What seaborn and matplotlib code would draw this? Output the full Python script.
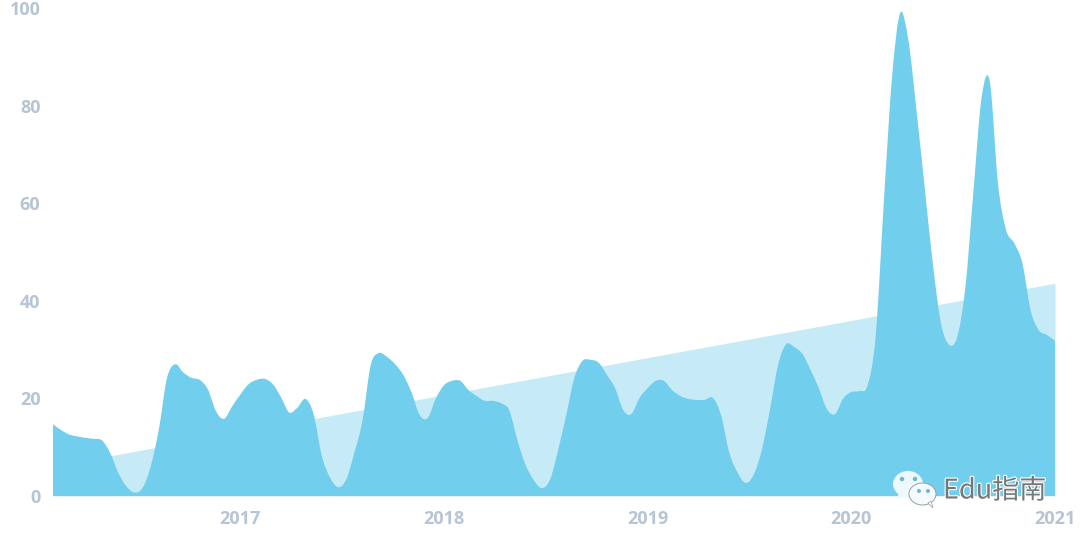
#!/usr/bin/env python3
"""Search interest area chart, 2016-2021, with rising trend behind it"""
import numpy as np
import pandas as pd
import matplotlib
matplotlib.use('Agg')
import matplotlib.pyplot as plt
import seaborn as sns
from matplotlib.patches import Ellipse, Polygon, PathPatch
from matplotlib.path import Path
from matplotlib.transforms import Affine2D
import matplotlib.patheffects as pe

# values, one every 0.04 year starting at 2016.08
start_year = 2016.08
step_year = 0.04
interest = [
    14.7, 13.5, 12.6, 12.2, 11.9, 11.7, 11.4, 8.9, 4.8, 2.0, 0.7, 1.7, 6.1,
    13.7, 24.2, 27.0, 25.3, 24.2, 23.8, 21.9, 17.4, 15.8, 18.4, 20.8, 22.9,
    23.8, 24.0, 22.9, 20.2, 17.1, 18.1, 19.9, 16.7, 8.2, 3.8, 1.8, 3.4, 8.9,
    15.5, 26.8, 29.3, 28.5, 27.0, 24.8, 21.3, 16.6, 16.0, 20.0, 22.7, 23.6,
    23.6, 21.7, 20.5, 19.5, 19.5, 19.0, 17.6, 11.5, 6.4, 3.3, 1.6, 3.3, 9.4,
    16.6, 24.2, 27.7, 27.9, 27.3, 24.8, 22.1, 17.6, 16.8, 20.1, 22.1, 23.6,
    23.6, 21.7, 20.5, 19.9, 19.7, 19.7, 20.1, 16.6, 9.0, 4.9, 2.7, 4.3, 9.4,
    17.6, 26.8, 31.1, 30.5, 29.1, 25.8, 22.1, 17.8, 16.8, 20.0, 21.3, 21.5,
    22.7, 33.0, 60.6, 85.9, 99.0, 93.4, 79.0, 63.3, 47.7, 35.4, 31.0, 32.6,
    42.8, 62.7, 81.8, 84.9, 64.0, 54.5, 51.8, 47.7, 38.1, 34.0, 33.0, 31.8,
]
trend_years = [2016.08, 2021.0]
trend_values = [6.1, 43.6]
x_ticks = [2017, 2018, 2019, 2020, 2021]
y_ticks = [0, 20, 40, 60, 80, 100]

MAIN = '#71CEEC'
LIGHT = '#C6EBF7'
LABEL = '#B7C4D3'


def smooth_area(xs, ys):
    # closed area whose top edge is a curve through every point (Catmull-Rom tangents)
    xs, ys = np.asarray(xs), np.asarray(ys)
    dx = np.gradient(xs) / 3
    dy = np.gradient(ys) / 3
    verts = [(xs[0], 0), (xs[0], ys[0])]
    codes = [Path.MOVETO, Path.LINETO]
    for i in range(len(xs) - 1):
        verts += [(xs[i] + dx[i], ys[i] + dy[i]),
                  (xs[i + 1] - dx[i + 1], ys[i + 1] - dy[i + 1]),
                  (xs[i + 1], ys[i + 1])]
        codes += [Path.CURVE4] * 3
    verts += [(xs[-1], 0), (xs[0], 0)]
    codes += [Path.LINETO, Path.CLOSEPOLY]
    return Path(verts, codes)


sns.set_theme(style='white')
plt.rcParams['font.family'] = ['Open Sans', 'DejaVu Sans']

df = pd.DataFrame({
    'year': start_year + step_year * np.arange(len(interest)),
    'interest': interest,
})
trend = pd.DataFrame({'year': trend_years, 'value': trend_values})

fig = plt.figure(figsize=(10.8, 5.4), dpi=100)
ax = fig.add_axes([53 / 1080, 44 / 540, 1002 / 1080, 488 / 540])

# trend sits behind the main area
sns.lineplot(data=trend, x='year', y='value', color=LIGHT, lw=0, ax=ax)
ax.fill_between(trend['year'], trend['value'], color=LIGHT, lw=0)
sns.lineplot(data=df, x='year', y='interest', color=MAIN, lw=0, ax=ax)
ax.add_patch(PathPatch(smooth_area(df['year'], df['interest']), fc=MAIN, ec='none', transform=ax.transData))

ax.set_xlim(start_year, 2021.0)
ax.set_ylim(0, 100)
ax.set_xticks(x_ticks)
ax.set_yticks(y_ticks)
ax.set_xlabel('')
ax.set_ylabel('')
sns.despine(ax=ax, left=True, bottom=True, top=True, right=True)
ax.tick_params(axis='x', length=0, pad=10, labelsize=13, labelcolor=LABEL)
ax.tick_params(axis='y', length=0, pad=9, labelsize=13, labelcolor=LABEL)
for lab in ax.get_xticklabels() + ax.get_yticklabels():
    lab.set_fontweight('bold')
    lab.set_clip_on(False)
ax.patch.set_alpha(0)

# watermark, in picture pixels
px = Affine2D().scale(1, -1).translate(0, 540)
fig.add_artist(Ellipse((908, 484), 30, 26, transform=px, fc='#EEF9FD', ec='none', zorder=5))
fig.add_artist(Polygon([(899, 493), (896, 500), (906, 496)], transform=px, fc='#EEF9FD', ec='none', zorder=5))
for ex in (902, 915):
    fig.add_artist(Ellipse((ex, 479), 4.5, 4.5, transform=px, fc='#6FB7CF', ec='none', zorder=6))
fig.add_artist(Ellipse((922.5, 494), 27, 22, transform=px, fc='#F4FBFE', ec='#9A9FA2', lw=0.7, zorder=7))
fig.add_artist(Polygon([(928, 503), (933, 508), (931, 501)], transform=px, fc='#F4FBFE', ec='#9A9FA2', lw=0.5, zorder=7))
for ex in (919, 928):
    fig.add_artist(Ellipse((ex, 491), 4, 4, transform=px, fc='#6FB7CF', ec='none', zorder=8))
fig.text(943 / 1080, 1 - 491 / 540, 'Edu指南', fontsize=19.5, color='#777777', va='center', ha='left',
         family=['Noto Sans CJK SC', 'DejaVu Sans'], zorder=9,
         path_effects=[pe.withStroke(linewidth=1.6, foreground='white')])

plt.savefig('out.png', dpi=100)
plt.close()
